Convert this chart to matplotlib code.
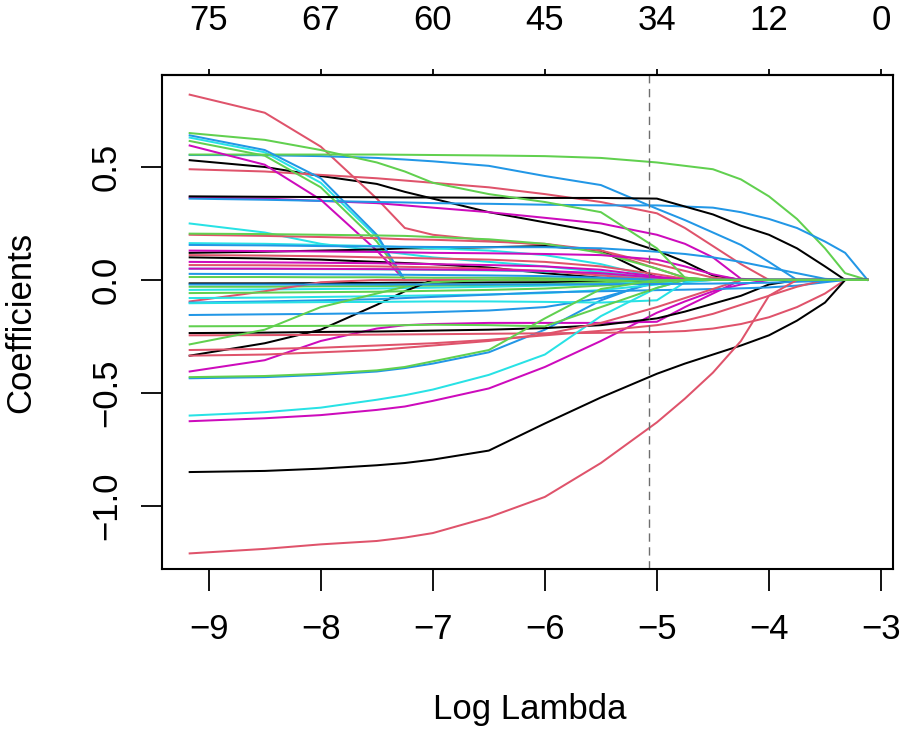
import matplotlib
matplotlib.use("Agg")
import matplotlib.pyplot as plt

plt.rcParams['font.family'] = ['Liberation Sans', 'DejaVu Sans']

# log(lambda) grid at which coefficient values were read
LOG_LAMBDA = [-9.17, -8.5, -8.0, -7.5, -7.25, -7.0, -6.5, -6.0, -5.5, -5.0,
              -4.75, -4.5, -4.25, -4.0, -3.75, -3.5, -3.32, -3.12]

# number of non-zero coefficients (top axis)
DF_TICKS = [-9, -8, -7, -6, -5, -4, -3]
DF_LABELS = ["75", "67", "60", "45", "34", "12", "0"]

LAMBDA_MIN_LOG = -5.07

coef_black = [
    [0.53, 0.50, 0.46, 0.425, 0.39, 0.36, 0.30, 0.255, 0.21, 0.13, 0.08, 0.02, 0, 0, 0, 0, 0, 0],
    [0.10, 0.095, 0.09, 0.08, 0.075, 0.07, 0.055, 0.03, 0.01, 0, 0, 0, 0, 0, 0, 0, 0, 0],
    [0.12, 0.125, 0.13, 0.135, 0.14, 0.14, 0.145, 0.15, 0.13, 0.01, 0, 0, 0, 0, 0, 0, 0, 0],
    [0.37, 0.368, 0.367, 0.366, 0.365, 0.365, 0.364, 0.363, 0.363, 0.36, 0.325, 0.29, 0.24, 0.20, 0.14, 0.06, 0, 0],
    [-0.015, -0.015, -0.014, -0.013, -0.012, -0.012, -0.011, -0.01, -0.008, -0.005, -0.003, 0, 0, 0, 0, 0, 0, 0],
    [-0.335, -0.28, -0.22, -0.11, -0.05, 0, 0, 0, 0, 0, 0, 0, 0, 0, 0, 0, 0, 0],
    [-0.235, -0.233, -0.23, -0.228, -0.226, -0.224, -0.22, -0.213, -0.20, -0.17, -0.14, -0.105, -0.07, -0.02, 0, 0, 0, 0],
    [-0.85, -0.845, -0.835, -0.82, -0.81, -0.795, -0.755, -0.635, -0.52, -0.415, -0.37, -0.33, -0.29, -0.245, -0.18, -0.10, 0, 0],
]

coef_red = [
    [0.82, 0.74, 0.59, 0.36, 0.23, 0.20, 0.175, 0.155, 0.13, 0.05, 0.01, 0, 0, 0, 0, 0, 0, 0],
    [0.49, 0.48, 0.465, 0.45, 0.44, 0.43, 0.41, 0.38, 0.345, 0.295, 0.23, 0.15, 0.07, 0, 0, 0, 0, 0],
    [0.20, 0.195, 0.19, 0.185, 0.18, 0.178, 0.17, 0.16, 0.13, 0.07, 0.04, 0.01, 0, 0, 0, 0, 0, 0],
    [0.11, 0.108, 0.105, 0.10, 0.098, 0.095, 0.09, 0.08, 0.06, 0.025, 0.005, 0, 0, 0, 0, 0, 0, 0],
    [0.066, 0.065, 0.063, 0.06, 0.058, 0.056, 0.05, 0.04, 0.02, 0, 0, 0, 0, 0, 0, 0, 0, 0],
    [-0.095, -0.05, -0.01, 0, 0, 0, 0, 0, 0, 0, 0, 0, 0, 0, 0, 0, 0, 0],
    [-0.245, -0.244, -0.243, -0.242, -0.241, -0.24, -0.238, -0.236, -0.234, -0.23, -0.226, -0.215, -0.195, -0.165, -0.12, -0.06, 0, 0],
    [-0.31, -0.305, -0.30, -0.29, -0.285, -0.28, -0.265, -0.245, -0.225, -0.20, -0.18, -0.15, -0.11, -0.07, -0.03, 0, 0, 0],
    [-0.335, -0.33, -0.32, -0.31, -0.30, -0.29, -0.27, -0.24, -0.19, -0.12, -0.08, -0.04, 0, 0, 0, 0, 0, 0],
    [-1.21, -1.19, -1.17, -1.155, -1.14, -1.12, -1.05, -0.96, -0.81, -0.63, -0.525, -0.41, -0.27, -0.07, 0, 0, 0, 0],
]

coef_green = [
    [0.555, 0.555, 0.555, 0.555, 0.554, 0.553, 0.551, 0.548, 0.54, 0.52, 0.505, 0.49, 0.445, 0.37, 0.27, 0.14, 0.03, 0],
    [0.615, 0.55, 0.41, 0.17, 0, 0, 0, 0, 0, 0, 0, 0, 0, 0, 0, 0, 0, 0],
    [0.205, 0.203, 0.20, 0.197, 0.195, 0.19, 0.18, 0.16, 0.12, 0.05, 0.01, 0, 0, 0, 0, 0, 0, 0],
    [0.013, 0.013, 0.012, 0.012, 0.011, 0.01, 0.01, 0.008, 0.005, 0, 0, 0, 0, 0, 0, 0, 0, 0],
    [-0.03, -0.03, -0.028, -0.027, -0.026, -0.025, -0.022, -0.018, -0.01, 0, 0, 0, 0, 0, 0, 0, 0, 0],
    [-0.058, -0.056, -0.054, -0.052, -0.05, -0.048, -0.044, -0.038, -0.025, -0.01, 0, 0, 0, 0, 0, 0, 0, 0],
    [-0.285, -0.22, -0.12, -0.06, -0.03, -0.01, 0, 0, 0, 0, 0, 0, 0, 0, 0, 0, 0, 0],
    [-0.205, -0.204, -0.203, -0.202, -0.20, -0.198, -0.20, -0.205, -0.12, -0.035, 0, 0, 0, 0, 0, 0, 0, 0],
    [-0.43, -0.425, -0.415, -0.40, -0.385, -0.36, -0.31, -0.17, -0.04, 0, 0, 0, 0, 0, 0, 0, 0, 0],
    [0.65, 0.62, 0.575, 0.52, 0.48, 0.43, 0.38, 0.345, 0.30, 0.14, 0.01, 0, 0, 0, 0, 0, 0, 0],
]

coef_blue = [
    [0.553, 0.552, 0.548, 0.54, 0.533, 0.525, 0.505, 0.46, 0.42, 0.315, 0.265, 0.21, 0.155, 0.08, 0, 0, 0, 0],
    [0.36, 0.355, 0.35, 0.345, 0.343, 0.34, 0.337, 0.333, 0.33, 0.33, 0.325, 0.32, 0.30, 0.27, 0.23, 0.17, 0.12, 0],
    [0.64, 0.575, 0.45, 0.20, 0, 0, 0, 0, 0, 0, 0, 0, 0, 0, 0, 0, 0, 0],
    [-0.435, -0.43, -0.42, -0.405, -0.39, -0.37, -0.32, -0.22, -0.09, 0, 0, 0, 0, 0, 0, 0, 0, 0],
    [0.155, 0.153, 0.15, 0.148, 0.147, 0.146, 0.145, 0.145, 0.14, 0.125, 0.115, 0.10, 0.08, 0.055, 0.03, 0.005, 0, 0],
    [-0.155, -0.152, -0.15, -0.147, -0.145, -0.142, -0.135, -0.12, -0.08, -0.01, 0, 0, 0, 0, 0, 0, 0, 0],
    [-0.10, -0.095, -0.09, -0.085, -0.08, -0.075, -0.065, -0.055, -0.05, -0.045, -0.043, -0.04, -0.037, -0.033, -0.025, -0.01, 0, 0],
    [0.027, 0.026, 0.025, 0.024, 0.023, 0.022, 0.02, 0.017, 0.01, 0, 0, 0, 0, 0, 0, 0, 0, 0],
    [-0.02, -0.02, -0.02, -0.02, -0.02, -0.02, -0.02, -0.02, -0.019, -0.018, -0.017, -0.016, -0.014, -0.012, -0.008, -0.004, 0, 0],
]

coef_cyan = [
    [0.63, 0.565, 0.43, 0.19, 0, 0, 0, 0, 0, 0, 0, 0, 0, 0, 0, 0, 0, 0],
    [0.25, 0.21, 0.16, 0.13, 0.115, 0.10, 0.08, 0.06, 0.035, 0.01, 0, 0, 0, 0, 0, 0, 0, 0],
    [0.163, 0.16, 0.155, 0.15, 0.145, 0.14, 0.13, 0.11, 0.07, 0.01, 0, 0, 0, 0, 0, 0, 0, 0],
    [0.05, 0.049, 0.048, 0.047, 0.046, 0.045, 0.042, 0.037, 0.025, 0.005, 0, 0, 0, 0, 0, 0, 0, 0],
    [-0.044, -0.042, -0.04, -0.038, -0.036, -0.034, -0.03, -0.025, -0.018, -0.008, 0, 0, 0, 0, 0, 0, 0, 0],
    [-0.08, -0.078, -0.075, -0.072, -0.07, -0.068, -0.064, -0.058, -0.045, -0.02, 0, 0, 0, 0, 0, 0, 0, 0],
    [-0.103, -0.10, -0.098, -0.097, -0.096, -0.095, -0.095, -0.097, -0.10, -0.09, -0.01, 0, 0, 0, 0, 0, 0, 0],
    [-0.60, -0.585, -0.565, -0.53, -0.51, -0.485, -0.42, -0.33, -0.16, -0.035, 0, 0, 0, 0, 0, 0, 0, 0],
]

coef_magenta = [
    [0.365, 0.36, 0.35, 0.34, 0.33, 0.32, 0.30, 0.275, 0.25, 0.20, 0.16, 0.10, 0.005, 0, 0, 0, 0, 0],
    [0.595, 0.51, 0.355, 0.13, 0, 0, 0, 0, 0, 0, 0, 0, 0, 0, 0, 0, 0, 0],
    [-0.405, -0.355, -0.27, -0.215, -0.20, -0.195, -0.19, -0.19, -0.19, -0.185, -0.12, -0.06, 0, 0, 0, 0, 0, 0],
    [-0.625, -0.612, -0.598, -0.575, -0.56, -0.535, -0.48, -0.385, -0.27, -0.145, -0.095, -0.05, -0.02, 0, 0, 0, 0, 0],
    [0.13, 0.128, 0.126, 0.124, 0.122, 0.12, 0.118, 0.115, 0.11, 0.09, 0.06, 0.025, 0, 0, 0, 0, 0, 0],
    [0.08, 0.078, 0.076, 0.074, 0.072, 0.07, 0.066, 0.06, 0.045, 0.015, 0, 0, 0, 0, 0, 0, 0, 0],
    [0.05, 0.05, 0.049, 0.048, 0.047, 0.046, 0.044, 0.04, 0.03, 0.01, 0, 0, 0, 0, 0, 0, 0, 0],
]

COLORS = {
    "black": "#000000",
    "red": "#DF536B",
    "green": "#61D04F",
    "blue": "#2297E6",
    "cyan": "#28E2E5",
    "magenta": "#CD0BBC",
}

groups = [
    ("black", coef_black), ("red", coef_red), ("blue", coef_blue),
    ("cyan", coef_cyan), ("magenta", coef_magenta), ("green", coef_green),
]

FS = 25

fig = plt.figure(figsize=(9.04, 7.30), dpi=100)
ax = fig.add_axes([162 / 904, 1 - 569 / 730, (893 - 162) / 904, (569 - 75) / 730])

# interleave colours like matplot does with a cycling palette
max_n = max(len(g[1]) for g in groups)
for i in range(max_n):
    for name, paths in groups:
        if i < len(paths):
            ax.plot(LOG_LAMBDA, paths[i], color=COLORS[name], lw=1.45,
                    solid_joinstyle="round")

ax.axvline(LAMBDA_MIN_LOG, color="#6e6e6e", lw=1.0, ls=(0, (6, 4)))

ax.set_xlim(-9.417, -2.893)
ax.set_ylim(-1.279, 0.907)

for s in ax.spines.values():
    s.set_linewidth(1.5)

ax.set_xticks(DF_TICKS)
ax.set_xticklabels(["\u2212" + str(abs(t)) for t in DF_TICKS], fontsize=FS)
ax.tick_params(axis="x", direction="out", length=16, width=1.3, pad=16)

yt = [-1.0, -0.5, 0.0, 0.5]
ax.set_yticks(yt)
ax.set_yticklabels([("\u2212" if v < 0 else "") + f"{abs(v):.1f}" for v in yt],
                   fontsize=FS, rotation=90, va="center", ha="right")
ax.tick_params(axis="y", direction="out", length=15, width=1.3, pad=13)

sec = ax.secondary_xaxis("top")
sec.set_xticks(DF_TICKS)
sec.set_xticklabels(DF_LABELS, fontsize=FS)
sec.tick_params(direction="out", length=4.5, width=1.3, pad=23)
sec.spines["top"].set_linewidth(1.5)

fig.text(530 / 904, 1 - 710 / 730, "Log Lambda", ha="center", va="center", fontsize=FS)
fig.text(21 / 904, 1 - 322 / 730, "Coefficients", ha="center", va="center",
         fontsize=FS, rotation=90)

fig.savefig("out.png", dpi=100)
